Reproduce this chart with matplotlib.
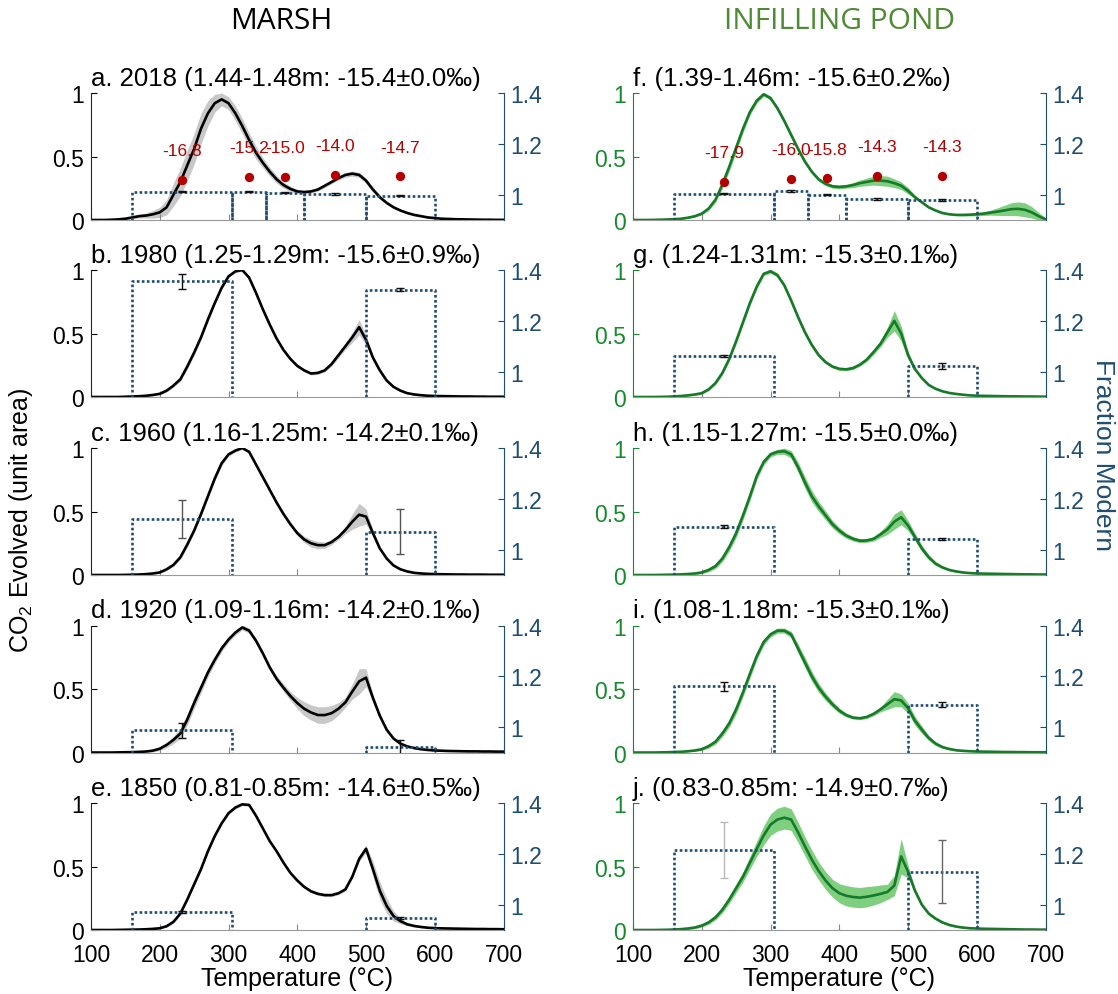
import numpy as np
import matplotlib.pyplot as plt

plt.rcParams['font.family'] = ['Liberation Sans', 'DejaVu Sans']
plt.rcParams['mathtext.fontset'] = 'custom'
plt.rcParams['mathtext.rm'] = 'Liberation Sans'
plt.rcParams['mathtext.it'] = 'Liberation Sans'

# temperature grid of the thermograms (deg C)
temps = np.arange(100, 701, 10)

# CO2 evolved (unit area), marsh cores
co2_a = [0, 0, 0, 0.002, 0.005, 0.01, 0.02, 0.03, 0.035, 0.045,
         0.06, 0.1, 0.2, 0.3, 0.43, 0.56, 0.72, 0.84, 0.92, 0.95,
         0.92, 0.84, 0.74, 0.63, 0.53, 0.45, 0.38, 0.32, 0.275, 0.245,
         0.225, 0.22, 0.225, 0.24, 0.27, 0.30, 0.33, 0.355, 0.365, 0.355,
         0.31, 0.24, 0.18, 0.135, 0.1, 0.075, 0.055, 0.04, 0.03, 0.02,
         0.015, 0.01, 0.008, 0.006, 0.005, 0.004, 0.003, 0.002, 0.002, 0.001,
         0.001]
co2_b = [0, 0, 0, 0, 0, 0.002, 0.004, 0.006, 0.01, 0.016,
         0.025, 0.05, 0.09, 0.14, 0.24, 0.35, 0.47, 0.61, 0.74, 0.86,
         0.95, 0.99, 1.0, 0.94, 0.82, 0.69, 0.57, 0.46, 0.37, 0.3,
         0.245, 0.21, 0.185, 0.19, 0.21, 0.26, 0.33, 0.40, 0.47, 0.55,
         0.45, 0.31, 0.21, 0.13, 0.08, 0.05, 0.03, 0.02, 0.014, 0.01,
         0.008, 0.007, 0.006, 0.005, 0.004, 0.004, 0.003, 0.003, 0.002, 0.002,
         0.002]
co2_c = [0, 0, 0, 0, 0, 0.001, 0.002, 0.004, 0.007, 0.012,
         0.02, 0.045, 0.08, 0.14, 0.24, 0.35, 0.48, 0.62, 0.76, 0.88,
         0.95, 0.98, 1.0, 0.97, 0.87, 0.77, 0.67, 0.57, 0.48, 0.40,
         0.33, 0.28, 0.25, 0.235, 0.235, 0.26, 0.30, 0.355, 0.42, 0.475,
         0.46, 0.33, 0.21, 0.13, 0.075, 0.045, 0.028, 0.017, 0.012, 0.009,
         0.007, 0.006, 0.005, 0.004, 0.004, 0.003, 0.003, 0.003, 0.002, 0.002,
         0.002]
co2_d = [0, 0, 0, 0, 0.001, 0.002, 0.003, 0.005, 0.008, 0.015,
         0.03, 0.06, 0.1, 0.15, 0.26, 0.39, 0.51, 0.63, 0.73, 0.82,
         0.89, 0.945, 0.985, 0.96, 0.88, 0.78, 0.67, 0.58, 0.51, 0.445,
         0.39, 0.345, 0.315, 0.295, 0.295, 0.31, 0.345, 0.395, 0.48, 0.56,
         0.59, 0.43, 0.29, 0.18, 0.11, 0.07, 0.048, 0.035, 0.026, 0.02,
         0.016, 0.014, 0.012, 0.011, 0.01, 0.009, 0.009, 0.008, 0.008, 0.007,
         0.007]
co2_e = [0, 0, 0, 0, 0.001, 0.002, 0.003, 0.004, 0.006, 0.009,
         0.014, 0.03, 0.065, 0.13, 0.24, 0.36, 0.48, 0.62, 0.74, 0.84,
         0.92, 0.965, 0.99, 0.985, 0.90, 0.80, 0.70, 0.62, 0.53, 0.45,
         0.39, 0.34, 0.305, 0.285, 0.275, 0.275, 0.29, 0.32, 0.42, 0.56,
         0.64, 0.48, 0.31, 0.19, 0.11, 0.07, 0.045, 0.032, 0.024, 0.018,
         0.015, 0.013, 0.012, 0.011, 0.01, 0.009, 0.008, 0.008, 0.007, 0.007,
         0.006]

# CO2 evolved (unit area), infilling pond cores
co2_f = [0, 0, 0, 0.001, 0.002, 0.004, 0.006, 0.01, 0.018, 0.03,
         0.05, 0.09, 0.16, 0.28, 0.42, 0.57, 0.72, 0.85, 0.94, 0.99,
         0.96, 0.88, 0.78, 0.67, 0.56, 0.46, 0.38, 0.32, 0.285, 0.265,
         0.26, 0.265, 0.275, 0.29, 0.30, 0.31, 0.31, 0.305, 0.29, 0.27,
         0.23, 0.18, 0.14, 0.10, 0.075, 0.055, 0.045, 0.04, 0.04, 0.042,
         0.045, 0.05, 0.058, 0.066, 0.075, 0.085, 0.088, 0.08, 0.06, 0.03,
         0.005]
co2_g = [0, 0, 0, 0, 0.001, 0.002, 0.005, 0.008, 0.013, 0.02,
         0.03, 0.06, 0.11, 0.19, 0.3, 0.44, 0.59, 0.74, 0.87, 0.97,
         0.99, 0.96, 0.88, 0.76, 0.63, 0.51, 0.41, 0.33, 0.275, 0.24,
         0.222, 0.218, 0.228, 0.255, 0.295, 0.355, 0.42, 0.51, 0.6, 0.5,
         0.33, 0.22, 0.15, 0.095, 0.065, 0.045, 0.032, 0.024, 0.018, 0.013,
         0.01, 0.009, 0.008, 0.007, 0.006, 0.005, 0.005, 0.004, 0.004, 0.003,
         0.003]
co2_h = [0, 0, 0, 0, 0.001, 0.002, 0.003, 0.005, 0.008, 0.012,
         0.02, 0.04, 0.07, 0.13, 0.22, 0.33, 0.47, 0.62, 0.78, 0.89,
         0.95, 0.97, 0.975, 0.95, 0.85, 0.73, 0.62, 0.54, 0.47, 0.40,
         0.35, 0.31, 0.285, 0.27, 0.272, 0.285, 0.32, 0.36, 0.42, 0.455,
         0.39, 0.30, 0.21, 0.14, 0.09, 0.06, 0.04, 0.028, 0.02, 0.015,
         0.012, 0.011, 0.01, 0.009, 0.008, 0.007, 0.006, 0.005, 0.005, 0.004,
         0.004]
co2_i = [0, 0, 0, 0, 0.001, 0.002, 0.004, 0.006, 0.01, 0.016,
         0.026, 0.05, 0.085, 0.15, 0.23, 0.34, 0.475, 0.62, 0.76, 0.87,
         0.93, 0.96, 0.96, 0.93, 0.82, 0.71, 0.60, 0.51, 0.44, 0.38,
         0.33, 0.295, 0.275, 0.27, 0.28, 0.305, 0.34, 0.38, 0.42, 0.41,
         0.35, 0.25, 0.18, 0.115, 0.07, 0.043, 0.028, 0.018, 0.013, 0.01,
         0.008, 0.007, 0.006, 0.005, 0.004, 0.004, 0.003, 0.003, 0.002, 0.002,
         0.002]
co2_j = [0, 0, 0, 0, 0.001, 0.002, 0.004, 0.007, 0.012, 0.02,
         0.035, 0.06, 0.1, 0.16, 0.24, 0.33, 0.42, 0.53, 0.64, 0.745,
         0.83, 0.87, 0.885, 0.87, 0.77, 0.66, 0.555, 0.465, 0.39, 0.33,
         0.29, 0.27, 0.26, 0.255, 0.262, 0.272, 0.285, 0.30, 0.35, 0.58,
         0.46, 0.31, 0.2, 0.13, 0.09, 0.06, 0.04, 0.027, 0.019, 0.014,
         0.012, 0.01, 0.009, 0.008, 0.007, 0.006, 0.005, 0.004, 0.004, 0.003,
         0.003]

# half-width of the uncertainty envelope around each thermogram
band_a = [0, 0, 0, 0.002, 0.005, 0.008, 0.012, 0.015, 0.02, 0.03,
          0.04, 0.06, 0.09, 0.11, 0.12, 0.12, 0.12, 0.1, 0.07, 0.05,
          0.05, 0.06, 0.06, 0.055, 0.05, 0.04, 0.035, 0.03, 0.025, 0.02,
          0.015, 0.012, 0.012, 0.012, 0.015, 0.015, 0.015, 0.018, 0.02, 0.02,
          0.02, 0.02, 0.015, 0.012, 0.01, 0.008, 0.006, 0.005, 0.004, 0.003,
          0.003, 0.002, 0.002, 0.002, 0.001, 0.001, 0.001, 0.001, 0.001, 0.001,
          0.001]
band_b = [0, 0, 0, 0, 0, 0.002, 0.003, 0.004, 0.005, 0.006,
          0.008, 0.01, 0.012, 0.015, 0.02, 0.02, 0.02, 0.02, 0.015, 0.012,
          0.01, 0.01, 0.01, 0.01, 0.012, 0.012, 0.012, 0.012, 0.012, 0.012,
          0.012, 0.012, 0.012, 0.012, 0.012, 0.015, 0.02, 0.025, 0.04, 0.06,
          0.04, 0.02, 0.015, 0.01, 0.008, 0.006, 0.005, 0.004, 0.003, 0.003,
          0.002, 0.002, 0.002, 0.002, 0.002, 0.002, 0.002, 0.002, 0.002, 0.002,
          0.002]
band_c = [0, 0, 0, 0, 0, 0.001, 0.002, 0.003, 0.004, 0.005,
          0.006, 0.01, 0.012, 0.015, 0.02, 0.02, 0.02, 0.02, 0.02, 0.02,
          0.015, 0.012, 0.01, 0.01, 0.012, 0.012, 0.015, 0.015, 0.015, 0.015,
          0.02, 0.025, 0.03, 0.03, 0.025, 0.02, 0.02, 0.03, 0.06, 0.09,
          0.06, 0.025, 0.015, 0.01, 0.008, 0.006, 0.005, 0.004, 0.003, 0.003,
          0.002, 0.002, 0.002, 0.002, 0.002, 0.002, 0.002, 0.002, 0.002, 0.002,
          0.002]
band_d = [0, 0, 0, 0, 0, 0.002, 0.003, 0.005, 0.008, 0.01,
          0.015, 0.02, 0.03, 0.04, 0.045, 0.045, 0.04, 0.035, 0.03, 0.025,
          0.02, 0.02, 0.02, 0.02, 0.02, 0.02, 0.02, 0.025, 0.03, 0.035,
          0.045, 0.055, 0.06, 0.065, 0.065, 0.06, 0.05, 0.04, 0.06, 0.1,
          0.07, 0.03, 0.02, 0.015, 0.012, 0.01, 0.008, 0.006, 0.005, 0.004,
          0.003, 0.003, 0.003, 0.003, 0.003, 0.003, 0.003, 0.003, 0.003, 0.003,
          0.003]
band_e = [0, 0, 0, 0, 0, 0.001, 0.002, 0.003, 0.004, 0.005,
          0.006, 0.008, 0.01, 0.012, 0.012, 0.012, 0.012, 0.012, 0.012, 0.01,
          0.01, 0.01, 0.01, 0.01, 0.01, 0.01, 0.01, 0.01, 0.01, 0.01,
          0.012, 0.012, 0.012, 0.012, 0.012, 0.012, 0.012, 0.012, 0.015, 0.02,
          0.03, 0.06, 0.07, 0.06, 0.04, 0.02, 0.01, 0.008, 0.006, 0.005,
          0.004, 0.003, 0.003, 0.003, 0.003, 0.003, 0.003, 0.003, 0.003, 0.003,
          0.003]
band_f = [0, 0, 0, 0, 0, 0.002, 0.003, 0.004, 0.006, 0.008,
          0.01, 0.015, 0.02, 0.03, 0.035, 0.035, 0.03, 0.025, 0.02, 0.015,
          0.015, 0.02, 0.02, 0.02, 0.02, 0.018, 0.015, 0.015, 0.015, 0.015,
          0.015, 0.015, 0.02, 0.025, 0.03, 0.035, 0.04, 0.04, 0.035, 0.03,
          0.025, 0.015, 0.01, 0.008, 0.006, 0.005, 0.005, 0.006, 0.008, 0.01,
          0.012, 0.015, 0.02, 0.03, 0.04, 0.05, 0.055, 0.055, 0.045, 0.03,
          0.012]
band_g = [0, 0, 0, 0, 0, 0.002, 0.003, 0.004, 0.005, 0.006,
          0.008, 0.01, 0.012, 0.015, 0.018, 0.02, 0.02, 0.02, 0.018, 0.015,
          0.015, 0.015, 0.018, 0.02, 0.02, 0.02, 0.018, 0.015, 0.012, 0.012,
          0.012, 0.012, 0.012, 0.012, 0.015, 0.02, 0.025, 0.04, 0.08, 0.06,
          0.03, 0.015, 0.01, 0.008, 0.006, 0.005, 0.004, 0.004, 0.003, 0.003,
          0.002, 0.002, 0.002, 0.002, 0.002, 0.002, 0.002, 0.002, 0.002, 0.002,
          0.002]
band_h = [0, 0, 0, 0, 0, 0.002, 0.003, 0.004, 0.005, 0.006,
          0.01, 0.015, 0.02, 0.025, 0.03, 0.035, 0.035, 0.035, 0.03, 0.025,
          0.02, 0.02, 0.025, 0.03, 0.04, 0.045, 0.045, 0.04, 0.035, 0.03,
          0.025, 0.02, 0.018, 0.015, 0.015, 0.018, 0.025, 0.04, 0.06, 0.06,
          0.04, 0.03, 0.025, 0.02, 0.015, 0.01, 0.008, 0.006, 0.004, 0.003,
          0.002, 0.002, 0.002, 0.002, 0.002, 0.002, 0.002, 0.002, 0.002, 0.002,
          0.002]
band_i = [0, 0, 0, 0, 0, 0.002, 0.003, 0.004, 0.005, 0.007,
          0.01, 0.015, 0.02, 0.025, 0.03, 0.035, 0.035, 0.035, 0.03, 0.025,
          0.02, 0.02, 0.02, 0.025, 0.035, 0.04, 0.04, 0.035, 0.03, 0.025,
          0.02, 0.015, 0.012, 0.012, 0.012, 0.015, 0.02, 0.04, 0.06, 0.05,
          0.04, 0.035, 0.03, 0.02, 0.015, 0.01, 0.008, 0.006, 0.004, 0.003,
          0.002, 0.002, 0.002, 0.002, 0.002, 0.002, 0.002, 0.002, 0.002, 0.002,
          0.002]
band_j = [0, 0, 0, 0, 0, 0.002, 0.003, 0.005, 0.008, 0.01,
          0.012, 0.015, 0.02, 0.025, 0.03, 0.035, 0.04, 0.05, 0.06, 0.075,
          0.085, 0.09, 0.09, 0.085, 0.08, 0.075, 0.075, 0.07, 0.07, 0.07,
          0.075, 0.08, 0.08, 0.08, 0.08, 0.075, 0.07, 0.06, 0.08, 0.14,
          0.05, 0.02, 0.015, 0.012, 0.01, 0.008, 0.006, 0.005, 0.004, 0.003,
          0.002, 0.002, 0.002, 0.002, 0.002, 0.002, 0.002, 0.002, 0.002, 0.002,
          0.002]

# ramped pyrolysis fractions (deg C) and their fraction modern
bins_2018 = [(160, 305), (305, 355), (355, 410), (410, 500), (500, 600)]
bins_two = [(160, 305), (500, 600)]
fm_a = [1.012, 1.012, 1.008, 1.002, 0.996]
fm_err_a = [0.003, 0.003, 0.002, 0.004, 0.003]
fm_b = [1.356, 1.323]
fm_err_b = [0.029, 0.005]
fm_c = [1.121, 1.071]
fm_err_c = [0.075, 0.087]
fm_d = [0.988, 0.92]
fm_err_d = [0.03, 0.03]
fm_e = [0.971, 0.947]
fm_err_e = [0.003, 0.003]
fm_f = [1.004, 1.015, 1.0, 0.982, 0.98]
fm_err_f = [0.003, 0.003, 0.002, 0.004, 0.004]
fm_g = [1.062, 1.022]
fm_err_g = [0.004, 0.012]
fm_h = [1.091, 1.042]
fm_err_h = [0.006, 0.004]
fm_i = [1.16, 1.089]
fm_err_i = [0.018, 0.01]
fm_j = [1.214, 1.13]
fm_err_j = [0.11, 0.125]

# d13C of the 2018 fractions (permil)
d13c_a = [-16.8, -15.2, -15.0, -14.0, -14.7]
d13c_f = [-17.9, -16.0, -15.8, -14.3, -14.3]

titles_marsh = ['a. 2018 (1.44-1.48m: -15.4\u00b10.0\u2030)',
                'b. 1980 (1.25-1.29m: -15.6\u00b10.9\u2030)',
                'c. 1960 (1.16-1.25m: -14.2\u00b10.1\u2030)',
                'd. 1920 (1.09-1.16m: -14.2\u00b10.1\u2030)',
                'e. 1850 (0.81-0.85m: -14.6\u00b10.5\u2030)']
titles_pond = ['f. (1.39-1.46m: -15.6\u00b10.2\u2030)',
               'g. (1.24-1.31m: -15.3\u00b10.1\u2030)',
               'h. (1.15-1.27m: -15.5\u00b10.0\u2030)',
               'i. (1.08-1.18m: -15.3\u00b10.1\u2030)',
               'j. (0.83-0.85m: -14.9\u00b10.7\u2030)']

NAVY = '#1f4d72'
RED = '#b30000'
marsh_style = dict(line='#000000', band='#c8c8c8', ytick='#000000', spine='#262626')
pond_style = dict(line='#167a28', band='#80cf80', ytick='#178a2c', spine='#178a2c')

marsh = [(co2_a, band_a, bins_2018, fm_a, fm_err_a, d13c_a),
         (co2_b, band_b, bins_two, fm_b, fm_err_b, None),
         (co2_c, band_c, bins_two, fm_c, fm_err_c, None),
         (co2_d, band_d, bins_two, fm_d, fm_err_d, None),
         (co2_e, band_e, bins_two, fm_e, fm_err_e, None)]
pond = [(co2_f, band_f, bins_2018, fm_f, fm_err_f, d13c_f),
        (co2_g, band_g, bins_two, fm_g, fm_err_g, None),
        (co2_h, band_h, bins_two, fm_h, fm_err_h, None),
        (co2_i, band_i, bins_two, fm_i, fm_err_i, None),
        (co2_j, band_j, bins_two, fm_j, fm_err_j, None)]

# error bar colours (most are black, a few drawn grey)
errcolors = {(2, 0): '#555555', (2, 1): '#555555', (9, 0): '#b8b8b8', (9, 1): '#666666'}

fig = plt.figure(figsize=(11.18, 9.95), dpi=100)
col_left = [0.0814, 0.5662]
ax_w = 0.369
row_bottom = [0.7779, 0.600, 0.4211, 0.2427, 0.0643]
ax_h = 0.1276

for col, (panels, titles, st) in enumerate([(marsh, titles_marsh, marsh_style),
                                            (pond, titles_pond, pond_style)]):
    for row, (co2, band, bins, fm, fm_err, d13c) in enumerate(panels):
        ax = fig.add_axes([col_left[col], row_bottom[row], ax_w, ax_h])
        y = np.array(co2)
        hw = np.array(band)
        ax.fill_between(temps, y - hw, y + hw, color=st['band'], lw=0, zorder=1)
        ax.plot(temps, y, color=st['line'], lw=1.9, zorder=2)
        ax.set_xlim(100, 700)
        ax.set_ylim(0, 1)
        ax.set_xticks(range(100, 701, 100))
        ax.set_yticks([0, 0.5, 1])
        ax.set_yticklabels(['0', '0.5', '1'])
        ax.tick_params(axis='y', direction='in', length=4, labelsize=16.5,
                       colors=st['ytick'], pad=5)
        ax.tick_params(axis='x', direction='in', length=4, labelsize=16.5,
                       color='#888888', pad=9)
        ax.spines['top'].set_visible(False)
        ax.spines['right'].set_visible(False)
        ax.spines['left'].set_color(st['spine'])
        ax.spines['bottom'].set_color('#999999')
        if row == 4:
            ax.set_xlabel('Temperature (\u00b0C)', fontsize=18, labelpad=0)
        else:
            ax.set_xticklabels([])

        ax.text(0.0, 1.025, titles[row], transform=ax.transAxes,
                ha='left', va='bottom', fontsize=18.5)

        # fraction modern of each pyrolysis fraction
        ax2 = ax.twinx()
        ax2.set_ylim(0.9, 1.4)
        ax2.set_yticks([1, 1.2, 1.4])
        ax2.set_yticklabels(['1', '1.2', '1.4'])
        ax2.tick_params(axis='y', direction='in', length=4, labelsize=16.5,
                        colors=NAVY, pad=5)
        for s in ['top', 'left', 'bottom']:
            ax2.spines[s].set_visible(False)
        ax2.spines['right'].set_color(NAVY)
        mids = []
        for (lo, hi), v in zip(bins, fm):
            ax2.plot([lo, lo, hi, hi], [0.9, v, v, 0.9], color=NAVY, lw=1.9,
                     linestyle=(0, (1, 0.9)), zorder=3)
            mids.append((lo + hi) / 2)
        for k, (m, v, e) in enumerate(zip(mids, fm, fm_err)):
            ec = errcolors.get((col * 5 + row, k), '#111111')
            ax2.errorbar(m, v, yerr=e, fmt='none', ecolor=ec, elinewidth=1.0,
                         capsize=3, capthick=1.0, zorder=4)

        # d13C markers for the 2018 cores
        if d13c is not None:
            ax3 = ax.twinx()
            ax3.set_ylim(-39.5, 32.5)
            ax3.axis('off')
            ax3.scatter(mids, d13c, s=45, color=RED, zorder=5, linewidths=0)
            for m, d in zip(mids, d13c):
                ax3.annotate(f'{d:.1f}', (m, d), xytext=(0, 21),
                             textcoords='offset points', ha='center',
                             va='center', fontsize=12.5, color=RED)

fig.text(0.252, 0.978, 'MARSH', ha='center', va='center', fontsize=21.5,
         family='Open Sans')
fig.text(0.751, 0.978, 'INFILLING POND', ha='center', va='center', fontsize=21.5,
         family='Open Sans', color='#4f8a34')
fig.text(0.019, 0.477, 'CO$_2$ Evolved (unit area)', rotation=90, ha='center',
         va='center', fontsize=18)
fig.text(0.987, 0.543, 'Fraction Modern', rotation=270, ha='center',
         va='center', fontsize=19, color=NAVY)

fig.savefig('out.png', dpi=100)
